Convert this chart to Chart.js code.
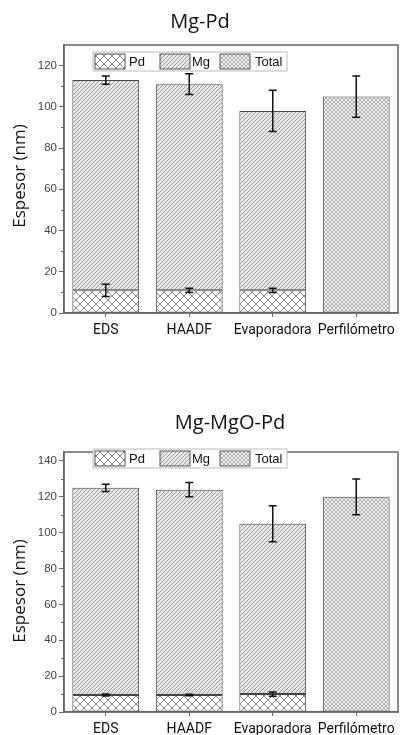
<!DOCTYPE html>
<html>
<head>
<meta charset="utf-8">
<script src="https://cdn.jsdelivr.net/npm/chart.js@4.4.1/dist/chart.umd.min.js"></script>
<style>
  body { margin: 0; background: #fff; }
  .box { position: absolute; left: 0; width: 412px; }
  #top_box { top: 0; height: 350px; }
  #bot_box { top: 360px; height: 375px; }
</style>
</head>
<body>
<div class="box" id="top_box"><canvas id="top_chart"></canvas></div>
<div class="box" id="bot_box"><canvas id="bot_chart"></canvas></div>
<script>
var categories = ['EDS', 'HAADF', 'Evaporadora', 'Perfilómetro'];

// Mg-Pd
var pd_top = [11, 11, 11, null];
var mg_top = [102, 100, 87, null];
var total_top = [null, null, null, 105];
var pd_top_err = [3, 1, 1, null];
var mg_top_err = [2, 5, 10, null];
var total_top_err = [null, null, null, 10];

// Mg-MgO-Pd
var pd_bot = [9.5, 9.5, 10, null];
var mg_bot = [115.5, 114.5, 95, null];
var total_bot = [null, null, null, 120];
var pd_bot_err = [0.6, 0.4, 1.2, null];
var mg_bot_err = [2, 4, 10, null];
var total_bot_err = [null, null, null, 10];

var makePattern = function (size, bg, color, width, both) {
    var c = document.createElement('canvas');
    c.width = size; c.height = size;
    var g = c.getContext('2d');
    g.fillStyle = bg;
    g.fillRect(0, 0, size, size);
    g.strokeStyle = color;
    g.lineWidth = width;
    for (var k = -1; k <= 1; k++) {
        g.beginPath();
        g.moveTo(k * size - 1, size + 1);
        g.lineTo(k * size + size + 1, -1);
        g.stroke();
        if (both) {
            g.beginPath();
            g.moveTo(k * size - 1, -1);
            g.lineTo(k * size + size + 1, size + 1);
            g.stroke();
        }
    }
    return g.createPattern(c, 'repeat');
};

var ctx0 = document.getElementById('top_chart').getContext('2d');
var pd_fill = makePattern(8, '#ffffff', '#8a8a8a', 1, true);
var mg_fill = makePattern(4, '#e8e8e8', '#909090', 0.9, false);
var total_fill = makePattern(4, '#f2f2f2', '#a8a8a8', 0.9, true);

var framePlugin = {
    id: 'frame',
    afterDatasetsDraw: function (chart, args, opts) {
        var ctx = chart.ctx, a = chart.chartArea, y = chart.scales.y;
        ctx.save();
        // error bars
        chart.data.datasets.forEach(function (ds, d) {
            var meta = chart.getDatasetMeta(d);
            ds.errors.forEach(function (e, i) {
                if (e == null) return;
                var el = meta.data[i];
                var v = y.getValueForPixel(el.y);
                var y1 = y.getPixelForValue(v + e), y2 = y.getPixelForValue(v - e);
                ctx.strokeStyle = '#111';
                ctx.lineWidth = 1.5;
                ctx.beginPath();
                ctx.moveTo(el.x, y1); ctx.lineTo(el.x, y2);
                ctx.moveTo(el.x - 4, y1); ctx.lineTo(el.x + 4, y1);
                ctx.moveTo(el.x - 4, y2); ctx.lineTo(el.x + 4, y2);
                ctx.stroke();
            });
        });
        // frame
        ctx.strokeStyle = '#666';
        ctx.lineWidth = 1.5;
        ctx.strokeRect(a.left, a.top, a.right - a.left, a.bottom - a.top);
        // minor ticks
        ctx.lineWidth = 1;
        for (var t = 10; t < y.max; t += 20) {
            var py = Math.round(y.getPixelForValue(t)) + 0.5;
            ctx.beginPath();
            ctx.moveTo(a.left - 3, py); ctx.lineTo(a.left, py);
            ctx.stroke();
        }
        // title
        ctx.fillStyle = '#111';
        ctx.font = '20px "Open Sans"';
        ctx.textAlign = 'center';
        ctx.textBaseline = 'middle';
        ctx.fillText(opts.title, opts.titleX, opts.titleY);
        // y axis title
        ctx.save();
        ctx.translate(20, opts.yTitleY);
        ctx.rotate(-Math.PI / 2);
        ctx.font = '17px "Open Sans"';
        ctx.fillText('Espesor (nm)', 0, 0);
        ctx.restore();
        // legend
        var lx = 93, ly = a.top + opts.legendDy;
        ctx.fillStyle = '#fff';
        ctx.fillRect(lx, ly, 194, 19);
        ctx.strokeStyle = '#bbb';
        ctx.strokeRect(lx, ly, 194, 19);
        var sw = [2, 67, 127];
        var tx = [36, 99, 162];
        ctx.font = '13px "Liberation Sans"';
        ctx.textAlign = 'left';
        chart.data.datasets.forEach(function (ds, d) {
            ctx.fillStyle = ds.backgroundColor;
            ctx.fillRect(lx + sw[d], ly + 2, 30, 15);
            ctx.strokeStyle = '#555';
            ctx.lineWidth = 1;
            ctx.strokeRect(lx + sw[d], ly + 2, 30, 15);
            ctx.fillStyle = '#111';
            ctx.fillText(ds.label, lx + tx[d], ly + 10);
        });
        ctx.restore();
    }
};

var makeChart = function (id, pd, mg, total, pdErr, mgErr, totalErr, ymax, padTop, xh, title, titleX, titleY, yTitleY, legendDy) {
    var mk = function (label, data, fill, errs) {
        return {
            label: label, data: data, errors: errs,
            backgroundColor: fill, borderColor: '#444', borderWidth: 1,
            barPercentage: 0.8, categoryPercentage: 1.0, borderSkipped: false
        };
    };
    return new Chart(document.getElementById(id), {
        type: 'bar',
        data: {
            labels: categories,
            datasets: [
                mk('Pd', pd, pd_fill, pdErr),
                mk('Mg', mg, mg_fill, mgErr),
                mk('Total', total, total_fill, totalErr)
            ]
        },
        options: {
            responsive: true,
            maintainAspectRatio: false,
            animation: false,
            layout: { padding: { top: padTop, right: 14, left: 0, bottom: 0 } },
            plugins: {
                legend: { display: false },
                tooltip: { enabled: false },
                frame: { title: title, titleX: titleX, titleY: titleY, yTitleY: yTitleY, legendDy: legendDy }
            },
            scales: {
                x: {
                    stacked: true,
                    afterFit: function (s) { s.height = xh; },
                    grid: { offset: false, drawOnChartArea: false, tickLength: 4, tickColor: '#666' },
                    border: { color: '#666', width: 1.5 },
                    ticks: { color: '#111', font: { family: 'Roboto', size: 14 }, padding: 5,
                        maxRotation: 0, autoSkip: false }
                },
                y: {
                    stacked: true,
                    min: 0, max: ymax,
                    afterFit: function (s) { s.width = 64; },
                    grid: { drawOnChartArea: false, tickLength: 5, tickColor: '#666' },
                    border: { color: '#666', width: 1.5 },
                    ticks: { stepSize: 20, includeBounds: false, color: '#444', padding: 2,
                        font: { family: 'Liberation Sans', size: 11.5 } }
                }
            }
        },
        plugins: [framePlugin]
    });
};

var top_g = makeChart('top_chart', pd_top, mg_top, total_top, pd_top_err, mg_top_err, total_top_err,
    130, 45, 37, 'Mg-Pd', 200, 22, 176, 7);
var bot_g = makeChart('bot_chart', pd_bot, mg_bot, total_bot, pd_bot_err, mg_bot_err, total_bot_err,
    145, 92, 23, 'Mg-MgO-Pd', 230, 63, 231, -3);
</script>
</body>
</html>
